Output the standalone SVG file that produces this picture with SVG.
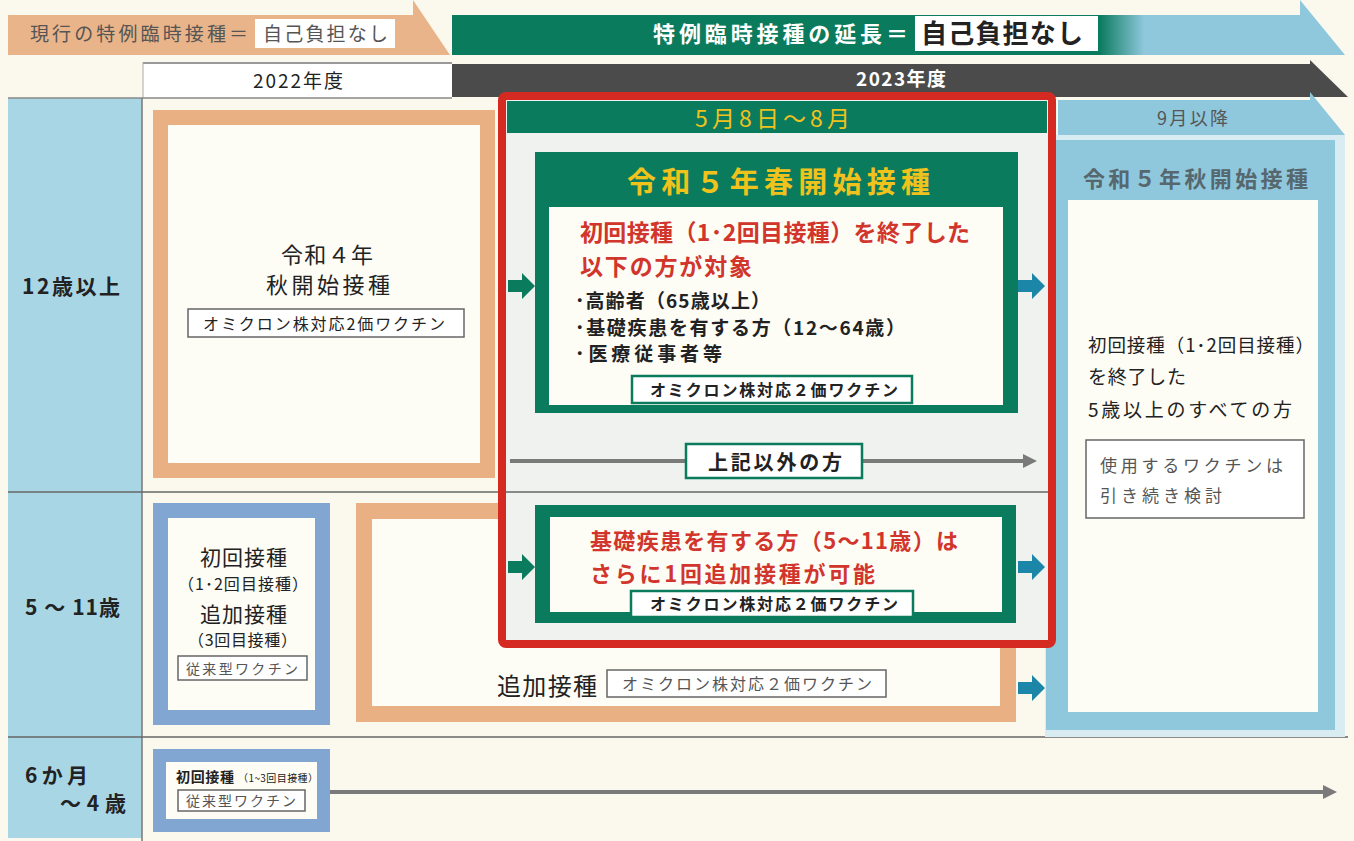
<svg xmlns="http://www.w3.org/2000/svg" width="1354" height="841" viewBox="0 0 1354 841">
<defs>
<style>
text{font-family:"Noto Sans CJK JP","Noto Sans",sans-serif;fill:#222;}
.b{font-weight:bold;}
.w{fill:#fff;}
.y{fill:#f0c21c;}
.r{fill:#d1352b;font-weight:bold;}
.g{fill:#555;}
.tag{fill:#fff;stroke:#666;stroke-width:1.5;}
.gtag{fill:#fff;stroke:#0b7b5e;stroke-width:2.5;}
</style>
<linearGradient id="gb" x1="0" x2="1" y1="0" y2="0">
<stop offset="0" stop-color="#0b7b5e"/>
<stop offset="0.725" stop-color="#0b7b5e"/>
<stop offset="0.775" stop-color="#8fc7dc"/>
<stop offset="1" stop-color="#8fc7dc"/>
</linearGradient>
<marker id="ga" viewBox="0 0 10 10" refX="5" refY="5" markerWidth="3.5" markerHeight="3.5" orient="auto">
<path d="M0,0 L10,5 L0,10 z" fill="#7a7a7a"/>
</marker>
</defs>
<rect width="1354" height="841" fill="#fbf9ee"/>

<g id="banner-current">
<polygon points="8,15 413,15 413,0 450,55 8,55" fill="#e9b489"/>
<text x="30" y="41" font-size="19" class="g" textLength="218">現行の特例臨時接種＝</text>
<rect x="255" y="19" width="140" height="29" fill="#fff"/>
<text x="263" y="41" font-size="19" class="g" textLength="125">自己負担なし</text>
</g>

<g id="banner-extension">
<polygon points="452,15 1300,15 1300,0 1345,55 452,55" fill="url(#gb)"/>
<text x="653" y="42" font-size="22" class="b w" textLength="255">特例臨時接種の延長＝</text>
<rect x="915" y="16" width="183" height="35" fill="#fff"/>
<text x="921" y="43" font-size="26" class="b" textLength="162">自己負担なし</text>
</g>

<g id="fy2022">
<rect x="143" y="62" width="309" height="36" fill="#fff"/>
<line x1="143" y1="63" x2="452" y2="63" stroke="#999" stroke-width="2"/>
<line x1="143" y1="62" x2="143" y2="98" stroke="#aaa" stroke-width="1"/>
<text x="253" y="88" font-size="19" textLength="90">2022年度</text>
</g>

<g id="fy2023">
<polygon points="452,64 1310,64 1310,60 1348,97 452,97" fill="#4b4b4b"/>
<text x="856" y="86" font-size="19" class="b w" textLength="90">2023年度</text>
</g>

<g id="age-column">
<rect x="8" y="98" width="134" height="740" fill="#a9d6e5"/>
<line x1="8" y1="98" x2="452" y2="98" stroke="#888" stroke-width="1.5"/>
<line x1="142" y1="98" x2="142" y2="841" stroke="#777" stroke-width="1.5"/>
<line x1="8" y1="492" x2="1045" y2="492" stroke="#666" stroke-width="1.5"/>
<line x1="8" y1="737" x2="1348" y2="737" stroke="#666" stroke-width="1.5"/>
<text x="22" y="294" font-size="21" class="b" textLength="98">12歳以上</text>
<text x="25" y="615" font-size="21" class="b" textLength="95">5 ～ 11歳</text>
<text x="25" y="783" font-size="21" class="b" textLength="63">6か月</text>
<text x="60" y="811" font-size="21" class="b" textLength="66">～4歳</text>
</g>

<g id="r4-autumn">
<rect x="160.5" y="117.5" width="327" height="353" fill="#fdfcf5" stroke="#e8b083" stroke-width="15"/>
<text x="281" y="263" font-size="22" textLength="92">令和４年</text>
<text x="266" y="293" font-size="22" textLength="124">秋開始接種</text>
<rect x="188" y="309" width="276" height="28" class="tag"/>
<text x="203" y="330" font-size="16" textLength="242">オミクロン株対応2価ワクチン</text>
</g>

<g id="booster-5-11">
<rect x="364" y="511" width="644" height="203" fill="#fdfcf5" stroke="#e8b083" stroke-width="16"/>
<text x="497" y="695" font-size="24" textLength="100">追加接種</text>
<rect x="607" y="670" width="279" height="27" class="tag"/>
<text x="622" y="690" font-size="16" class="g" textLength="250">オミクロン株対応２価ワクチン</text>
</g>

<g id="primary-5-11">
<rect x="160.5" y="510.5" width="162" height="207" fill="#fdfcf5" stroke="#82a6d2" stroke-width="15"/>
<text x="200" y="565" font-size="21" textLength="87">初回接種</text>
<text x="178" y="590" font-size="16" textLength="130">（1･2回目接種）</text>
<text x="200" y="622" font-size="21" textLength="87">追加接種</text>
<text x="188" y="646" font-size="16" textLength="109">（3回目接種）</text>
<rect x="178" y="656" width="129" height="24" class="tag"/>
<text x="186" y="674" font-size="14" class="g" textLength="112">従来型ワクチン</text>
</g>

<g id="primary-6m-4y">
<rect x="159.5" y="755.5" width="164" height="70" fill="#fdfcf5" stroke="#82a6d2" stroke-width="13"/>
<text x="176" y="782" font-size="14" class="b" textLength="58">初回接種</text>
<text x="238" y="782" font-size="10" textLength="80">（1~3回目接種）</text>
<rect x="178" y="790" width="127" height="21" class="tag"/>
<text x="186" y="806" font-size="14" class="g" textLength="110">従来型ワクチン</text>
</g>

<g id="autumn-r5">
<rect x="1045" y="135" width="300" height="602" fill="#d8ecf2"/>
<polygon points="1058,100 1310,100 1310,92 1345,135 1058,135" fill="#8fc7dc"/>
<text x="1157" y="125" font-size="18" class="g" textLength="71">9月以降</text>
<rect x="1046" y="140" width="289" height="590" fill="#8fc7dc"/>
<rect x="1068" y="200" width="250" height="512" fill="#fdfcf5"/>
<text x="1083" y="187" font-size="22" class="b" style="fill:#56676d" textLength="225">令和５年秋開始接種</text>
<text x="1088" y="352" font-size="18.5" textLength="226">初回接種（1･2回目接種）</text>
<text x="1088" y="384" font-size="19" textLength="98">を終了した</text>
<text x="1088" y="417" font-size="19" textLength="204">5歳以上のすべての方</text>
<rect x="1086" y="440" width="218" height="78" class="tag"/>
<text x="1100" y="472" font-size="17" class="g" textLength="183">使用するワクチンは</text>
<text x="1100" y="502" font-size="17" class="g" textLength="122">引き続き検討</text>
</g>

<g id="spring-r5-frame">
<rect x="502" y="96" width="550" height="548" rx="4" fill="#eff2ee" stroke="#d42a22" stroke-width="8"/>
<rect x="507" y="101" width="540" height="32" fill="#0b7b5e"/>
<text x="695" y="127" font-size="23" class="y" textLength="155">5月8日～8月</text>
<line x1="506" y1="492" x2="1048" y2="492" stroke="#666" stroke-width="1.5"/>
</g>

<g id="spring-r5-12plus">
<rect x="535" y="152" width="483" height="261" fill="#0b7b5e"/>
<rect x="549" y="207" width="454" height="198" fill="#fdfcf5"/>
<text x="627" y="193" font-size="29" class="b y" textLength="303">令和５年春開始接種</text>
<text x="580" y="241" font-size="23" class="r" textLength="390">初回接種（1･2回目接種）を終了した</text>
<text x="580" y="275" font-size="23" class="r" textLength="172">以下の方が対象</text>
<text x="575" y="308" font-size="19" class="b" textLength="195">･高齢者（65歳以上）</text>
<text x="575" y="335" font-size="19" class="b" textLength="330">･基礎疾患を有する方（12～64歳）</text>
<text x="575" y="361" font-size="19" class="b" textLength="147">･医療従事者等</text>
<rect x="632" y="376" width="280" height="27" class="gtag"/>
<text x="650" y="396" font-size="16" class="b" textLength="248">オミクロン株対応２価ワクチン</text>
</g>

<g id="spring-r5-5-11">
<rect x="535" y="505" width="481" height="118" fill="#0b7b5e"/>
<rect x="550" y="517" width="452" height="95" fill="#fdfcf5"/>
<text x="590" y="549" font-size="22" class="r" textLength="368">基礎疾患を有する方（5～11歳）は</text>
<text x="590" y="582" font-size="22" class="r" textLength="285">さらに1回追加接種が可能</text>
<rect x="631" y="591" width="282" height="26" class="gtag"/>
<text x="650" y="610" font-size="16" class="b" textLength="248">オミクロン株対応２価ワクチン</text>
</g>

<g id="connectors">
<polygon points="508,280 522,280 522,273 535,286 522,299 522,292 508,292" fill="#0b7b5e"/>
<polygon points="508,561 522,561 522,554 535,567 522,580 522,573 508,573" fill="#0b7b5e"/>
<polygon points="1018,280 1032,280 1032,273 1045,286 1032,299 1032,292 1018,292" fill="#1b86a8"/>
<polygon points="1018,561 1032,561 1032,554 1045,567 1032,580 1032,573 1018,573" fill="#1b86a8"/>
<polygon points="1018,682 1032,682 1032,675 1045,688 1032,701 1032,694 1018,694" fill="#1b86a8"/>
<line x1="510" y1="461" x2="1030" y2="461" stroke="#7a7a7a" stroke-width="4" marker-end="url(#ga)"/>
<line x1="330" y1="792" x2="1330" y2="792" stroke="#7a7a7a" stroke-width="4" marker-end="url(#ga)"/>
</g>

<g id="others-label">
<rect x="686" y="444" width="176" height="34" class="gtag"/>
<text x="708" y="470" font-size="20" class="b" textLength="134">上記以外の方</text>
</g>
</svg>
